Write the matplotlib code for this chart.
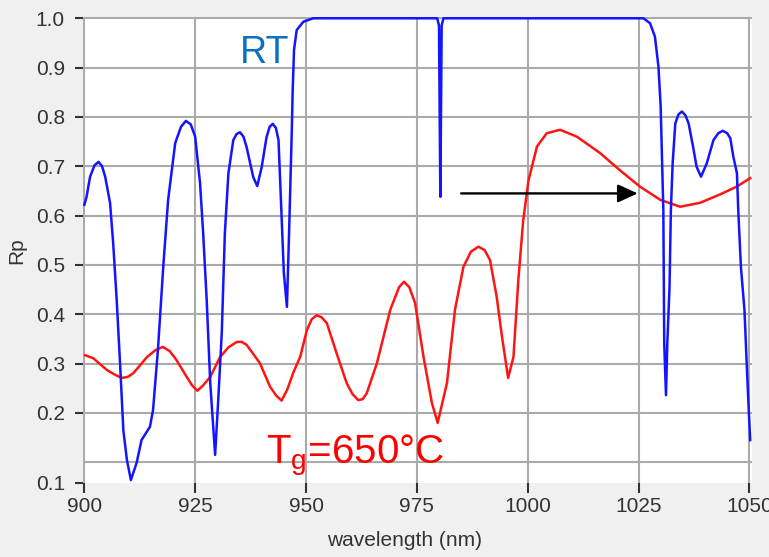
import matplotlib.pyplot as plt

# reflectance spectra, wavelength in nm
rt_wl = [900.0, 900.5, 901.3, 902.3, 903.2, 904.0, 904.7, 905.8, 906.5, 907.3,
         908.1, 908.8, 909.6, 910.5, 911.8, 912.9, 914.8, 915.5, 916.6, 917.8,
         918.9, 920.5, 921.8, 922.9, 924.0, 925.0, 926.1, 926.8, 927.6, 928.4,
         929.5, 930.2, 931.0, 931.7, 932.5, 933.6, 934.3, 935.1, 935.9, 936.6,
         938.1, 939.0, 940.0, 941.1, 941.8, 942.5, 943.2, 943.8, 944.5, 945.0,
         945.7, 946.2, 946.8, 947.0, 947.3, 947.9, 949.4, 951.6,
         979.6, 980.0, 980.2, 980.3, 980.4, 980.6, 981.0,
         1026.1, 1027.6, 1028.7, 1029.5, 1030.0, 1030.6, 1030.8, 1031.2, 1031.5,
         1032.0, 1032.3, 1032.7, 1033.3, 1034.0, 1034.8, 1035.6, 1036.3, 1037.3,
         1038.1, 1039.1, 1040.4, 1041.9, 1043.0, 1044.0, 1045.0, 1045.7, 1046.4,
         1047.2, 1047.5, 1048.1, 1048.9, 1049.4, 1049.9, 1050.2]
rt_rp = [0.622, 0.638, 0.679, 0.702, 0.709, 0.700, 0.679, 0.626, 0.545, 0.429,
         0.293, 0.165, 0.105, 0.064, 0.099, 0.145, 0.172, 0.206, 0.328, 0.496,
         0.632, 0.747, 0.780, 0.792, 0.785, 0.760, 0.666, 0.565, 0.429, 0.261,
         0.115, 0.226, 0.362, 0.565, 0.686, 0.753, 0.765, 0.769, 0.760, 0.739,
         0.678, 0.660, 0.698, 0.759, 0.780, 0.786, 0.778, 0.753, 0.597, 0.484,
         0.415, 0.571, 0.774, 0.855, 0.936, 0.976, 0.993, 1.0,
         1.0, 0.985, 0.75, 0.638, 0.75, 0.985, 1.0,
         1.0, 0.990, 0.963, 0.902, 0.821, 0.611, 0.342, 0.236, 0.342,
         0.456, 0.611, 0.706, 0.787, 0.805, 0.811, 0.803, 0.787, 0.740,
         0.699, 0.679, 0.706, 0.753, 0.767, 0.772, 0.767, 0.757, 0.719,
         0.686, 0.611, 0.496, 0.409, 0.301, 0.199, 0.145]

tg_wl = [900.2, 902.0, 905.1, 906.8, 908.4, 909.8, 911.1, 914.1, 916.0, 917.7,
         919.3, 920.8, 923.1, 924.3, 925.5, 926.8, 928.4, 930.6, 932.5, 934.4,
         935.5, 936.6, 939.6, 941.9, 943.3, 944.5, 945.8, 947.1, 948.7, 950.2,
         951.3, 952.4, 953.5, 954.7, 956.9, 959.2, 960.5, 961.8, 962.8, 963.7,
         966.0, 969.0, 971.0, 972.1, 973.3, 974.6, 976.5, 978.4, 979.7, 981.8,
         983.6, 985.5, 987.2, 988.9, 990.3, 991.5, 993.0, 994.2, 995.6, 996.8,
         997.9, 999.0, 1000.2, 1002.1, 1004.3, 1007.3, 1011.1, 1016.3, 1020.8, 1025.3,
         1029.9, 1034.4, 1038.9, 1043.4, 1047.2, 1050.2]
tg_rp = [0.317, 0.311, 0.287, 0.278, 0.271, 0.273, 0.281, 0.313, 0.327, 0.334,
         0.325, 0.307, 0.273, 0.256, 0.245, 0.256, 0.273, 0.313, 0.333, 0.344,
         0.344, 0.338, 0.301, 0.253, 0.235, 0.225, 0.248, 0.281, 0.314, 0.368,
         0.390, 0.398, 0.394, 0.382, 0.321, 0.260, 0.238, 0.226, 0.228, 0.240,
         0.301, 0.409, 0.455, 0.466, 0.455, 0.423, 0.314, 0.220, 0.180, 0.261,
         0.409, 0.496, 0.527, 0.537, 0.530, 0.510, 0.436, 0.355, 0.271, 0.314,
         0.470, 0.591, 0.672, 0.740, 0.767, 0.774, 0.760, 0.727, 0.692, 0.659,
         0.632, 0.618, 0.626, 0.643, 0.659, 0.676]

x_ticks = [900, 925, 950, 975, 1000, 1025, 1050]
y_grid = [0.1, 0.2, 0.3, 0.4, 0.5, 0.6, 0.7, 0.8, 0.9, 1.0]
y_min, y_max = 0.058, 1.0026
x_min, x_max = 899.7, 1050.6

plt.rcParams['font.family'] = ['Liberation Sans', 'DejaVu Sans']
plt.rcParams['mathtext.default'] = 'regular'

fig = plt.figure(figsize=(7.69, 5.57), dpi=100)
fig.patch.set_facecolor('#f0f0f0')
ax = fig.add_axes([83 / 769, 1 - 483 / 557, 669 / 769, 466 / 557])
ax.set_facecolor('white')

# grid drawn by hand so the bottom edge stays clean
for gx in x_ticks:
    ax.axvline(gx, color='#aaaaaa', lw=1.5, zorder=0)
for gy in y_grid:
    ax.axhline(gy, color='#aaaaaa', lw=1.5, zorder=0)

ax.plot(rt_wl, rt_rp, color='#1414ff', lw=1.8, zorder=3)
ax.plot(tg_wl, tg_rp, color='#ff1414', lw=1.8, zorder=2)

ax.annotate('', xy=(1024.8, 0.645), xytext=(985.0, 0.645),
            arrowprops=dict(arrowstyle='-|>,head_length=1.2,head_width=0.55',
                            color='black', lw=1.7, mutation_scale=10,
                            shrinkA=0, shrinkB=0), zorder=4)

ax.text(935.0, 0.909, 'RT', color='#0a70c0', fontsize=27, va='baseline', ha='left')
ax.text(941.0, 0.0985, r'T$_{g}$=650°C', color='red', fontsize=29,
        va='baseline', ha='left')

ax.set_xlim(x_min, x_max)
ax.set_ylim(y_min, y_max)
ax.set_xticks(x_ticks)
ax.set_xticklabels([str(t) for t in x_ticks])
y_ticks = [y_min] + y_grid[1:]
ax.set_yticks(y_ticks)
ax.set_yticklabels(['0.1'] + ['%.1f' % v for v in y_grid[1:]])

for s in ax.spines.values():
    s.set_visible(False)
ax.tick_params(axis='y', length=6, width=1.5, pad=7, color='#333333',
               labelcolor='#333333', labelsize=15)
ax.tick_params(axis='x', length=7, width=1.5, pad=3, color='#333333',
               labelcolor='#333333', labelsize=15)

fig.text(17 / 769, 1 - 251 / 557, 'Rp', rotation=90, ha='center', va='center',
         fontsize=15, color='#333333')
fig.text(405 / 769, 1 - 541 / 557, 'wavelength (nm)', ha='center', va='center',
         fontsize=15, color='#333333')

fig.savefig('out.png', dpi=100, facecolor=fig.get_facecolor())
